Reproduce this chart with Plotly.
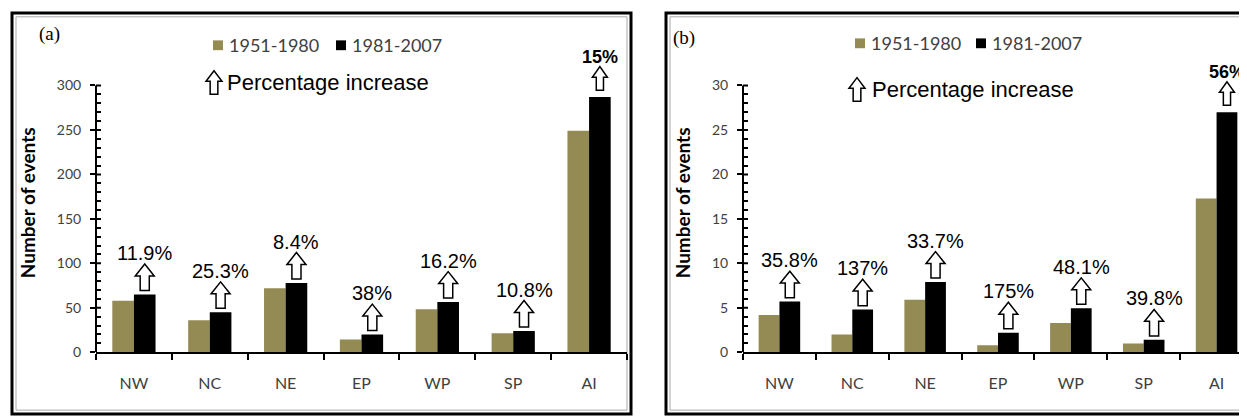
import plotly.graph_objects as go

# --- data ---
regions = ["NW", "NC", "NE", "EP", "WP", "SP", "AI"]

a_1951_1980 = [58, 36, 72, 14.5, 48.5, 21.5, 249]
a_1981_2007 = [65, 45, 78, 20, 56.5, 24, 287]
a_increase = ["11.9%", "25.3%", "8.4%", "38%", "16.2%", "10.8%", "15%"]

b_1951_1980 = [4.2, 2.0, 5.9, 0.8, 3.3, 1.0, 17.3]
b_1981_2007 = [5.7, 4.8, 7.9, 2.2, 4.95, 1.4, 27.0]
b_increase = ["35.8%", "137%", "33.7%", "175%", "48.1%", "39.8%", "56%"]

periods = ["1951-1980", "1981-2007"]

# --- style ---
W, H = 1247, 418
TAN = "#948A54"
BLACK = "#000000"
GREY_TXT = "#404040"
BARGAP = 0.43
Y_ZERO_PX, Y_MAX_PX = 351, 79   # pixel rows of 0 and of the top tick
HEADROOM = 1.12                 # extra range above the top tick for arrows/labels


def px_x(p):
    return p / W


def px_y(p):
    return 1 - p / H


def arrow_path(cx, y0, w, h):
    # hollow block arrow pointing up
    sw = w * 0.24
    yh = y0 + h * 0.55
    pts = [(cx - sw, y0), (cx + sw, y0), (cx + sw, yh), (cx + w / 2, yh),
           (cx, y0 + h), (cx - w / 2, yh), (cx - sw, yh)]
    return "M " + " L ".join(f"{x},{y}" for x, y in pts) + " Z"


panels = [
    dict(tag="(a)", xa="x", ya="y", x0=88, x1=619, ymax=300, dtick=50, minor=10,
         old=a_1951_1980, new=a_1981_2007, pct=a_increase,
         box=(4, 5, 623, 414), tag_pos=(29, 27),
         leg_y=38, leg_sq=(205, 328), leg_txt=(219, 342),
         pc_y=76, pc_arrow=198, pc_txt=217),
    dict(tag="(b)", xa="x2", ya="y2", x0=735, x1=1245, ymax=30, dtick=5, minor=1,
         old=b_1951_1980, new=b_1981_2007, pct=b_increase,
         box=(658, 5, 1252, 414), tag_pos=(676, 31),
         leg_y=36, leg_sq=(847, 968), leg_txt=(861, 982),
         pc_y=83, pc_arrow=841, pc_txt=862),
]

fig = go.Figure()
shapes = []
annotations = []
idx = list(range(len(regions)))

for n, p in enumerate(panels):
    sfx = "" if n == 0 else "2"
    ymax = p["ymax"]
    fig.add_trace(go.Bar(x=idx, y=p["old"], name=periods[0], marker_color=TAN,
                         marker_line_width=0, xaxis=p["xa"], yaxis=p["ya"],
                         showlegend=False))
    fig.add_trace(go.Bar(x=idx, y=p["new"], name=periods[1], marker_color=BLACK,
                         marker_line_width=0, xaxis=p["xa"], yaxis=p["ya"],
                         showlegend=False))

    top_px = Y_ZERO_PX - (Y_ZERO_PX - Y_MAX_PX) * HEADROOM
    major = list(range(0, ymax + 1, p["dtick"]))
    minor = [v for v in range(0, ymax + 1, p["minor"]) if v % p["dtick"]]

    fig.update_layout({
        "xaxis" + sfx: dict(
            domain=[px_x(p["x0"]), px_x(p["x1"])], anchor=p["ya"],
            range=[-0.5, len(regions) - 0.5], tickmode="array", tickvals=idx,
            ticktext=regions, ticks="", showline=True, linecolor="black",
            linewidth=2, showgrid=False, zeroline=False,
            tickfont=dict(family="Lato", size=16, color=GREY_TXT),
            ticklabelstandoff=16,
            minor=dict(tick0=0.5, dtick=1, ticks="outside", ticklen=6,
                       tickwidth=2, tickcolor="black"),
        ),
        "yaxis" + sfx: dict(
            domain=[px_y(Y_ZERO_PX), px_y(top_px)], anchor=p["xa"],
            range=[0, ymax * HEADROOM], tickmode="array", tickvals=major,
            ticks="outside", ticklen=5, tickwidth=2, tickcolor="black",
            showline=False, showgrid=False, zeroline=False,
            tickfont=dict(family="Lato", size=14, color=GREY_TXT),
            ticklabelstandoff=6,
            minor=dict(tickmode="array", tickvals=minor, ticks="inside", ticklen=5,
                       tickwidth=1.5, tickcolor="black"),
            title=dict(text="<b>Number of events</b>", standoff=16,
                       font=dict(family="Lato", size=19, color="black")),
        ),
    })

    # y axis line only up to the top tick, plus inner half of the major ticks
    shapes.append(dict(type="line", xref=p["xa"] + " domain", yref=p["ya"],
                       x0=0, x1=0, y0=0, y1=ymax, line=dict(color="black", width=2)))
    for v in major[1:]:
        shapes.append(dict(type="line", xref=p["xa"] + " domain", yref=p["ya"],
                           x0=0, x1=5 / (p["x1"] - p["x0"]), y0=v, y1=v,
                           line=dict(color="black", width=2)))

    # percentage-increase arrows and labels above the 1981-2007 bars
    ppx = (p["x1"] - p["x0"]) / len(regions)
    ppy = (Y_ZERO_PX - Y_MAX_PX) / ymax
    off = (1 - BARGAP) / 4
    for i, (v, lab) in enumerate(zip(p["new"], p["pct"])):
        last = i == len(regions) - 1
        aw, ah, gap = (15, 24, 7) if last else (19, 27, 4)
        cx = i + off
        y0 = v + gap / ppy
        shapes.append(dict(type="path", xref=p["xa"], yref=p["ya"],
                           path=arrow_path(cx, y0, aw / ppx, ah / ppy),
                           fillcolor="white", line=dict(color="black", width=1.5)))
        annotations.append(dict(
            x=cx, y=y0 + ah / ppy, xref=p["xa"], yref=p["ya"], text=lab,
            showarrow=False, yanchor="bottom", yshift=-2,
            font=dict(family="Liberation Sans", size=18 if last else 20,
                      color="black", weight="bold" if last else "normal")))

    # panel frame
    bx0, by0, bx1, by1 = p["box"]
    shapes.append(dict(type="rect", xref="paper", yref="paper",
                       x0=px_x(bx0), x1=px_x(bx1), y0=px_y(by1), y1=px_y(by0),
                       line=dict(color="black", width=3), layer="below"))
    shapes.append(dict(type="rect", xref="paper", yref="paper",
                       x0=px_x(bx0 + 4), x1=px_x(bx1 - 4), y0=px_y(by1 - 4), y1=px_y(by0 + 4),
                       line=dict(color="#A8A8A8", width=1), layer="below"))

    annotations.append(dict(x=px_x(p["tag_pos"][0]), y=px_y(p["tag_pos"][1]),
                            xref="paper", yref="paper", text=p["tag"], showarrow=False,
                            yanchor="middle",
                            font=dict(family="Liberation Serif", size=19, color="black")))

    # legend
    for sq, tx, col, lab in zip(p["leg_sq"], p["leg_txt"], [TAN, BLACK], periods):
        shapes.append(dict(type="rect", xref="paper", yref="paper",
                           x0=px_x(sq), x1=px_x(sq + 10),
                           y0=px_y(p["leg_y"] + 5), y1=px_y(p["leg_y"] - 5),
                           fillcolor=col, line=dict(width=0)))
        annotations.append(dict(x=px_x(tx), y=px_y(p["leg_y"]), xref="paper", yref="paper",
                                text=lab, showarrow=False, xanchor="left", yanchor="middle",
                                font=dict(family="Lato", size=18, color=GREY_TXT)))

    ax = p["pc_arrow"]
    ay = p["pc_y"] + 12
    shapes.append(dict(type="path", xref="paper", yref="paper",
                       path=arrow_path(px_x(ax + 8), px_y(ay), 16 / W, 24 / H),
                       fillcolor="white", line=dict(color="black", width=1.5)))
    annotations.append(dict(x=px_x(p["pc_txt"]), y=px_y(p["pc_y"]), xref="paper",
                            yref="paper", text="Percentage increase", showarrow=False,
                            xanchor="left", yanchor="middle",
                            font=dict(family="Liberation Sans", size=22, color="black")))

fig.update_layout(
    width=W, height=H, margin=dict(l=0, r=0, t=0, b=0),
    paper_bgcolor="white", plot_bgcolor="white",
    barmode="group", bargap=BARGAP, bargroupgap=0,
    shapes=shapes, annotations=annotations,
)

fig.write_html("out.html")
